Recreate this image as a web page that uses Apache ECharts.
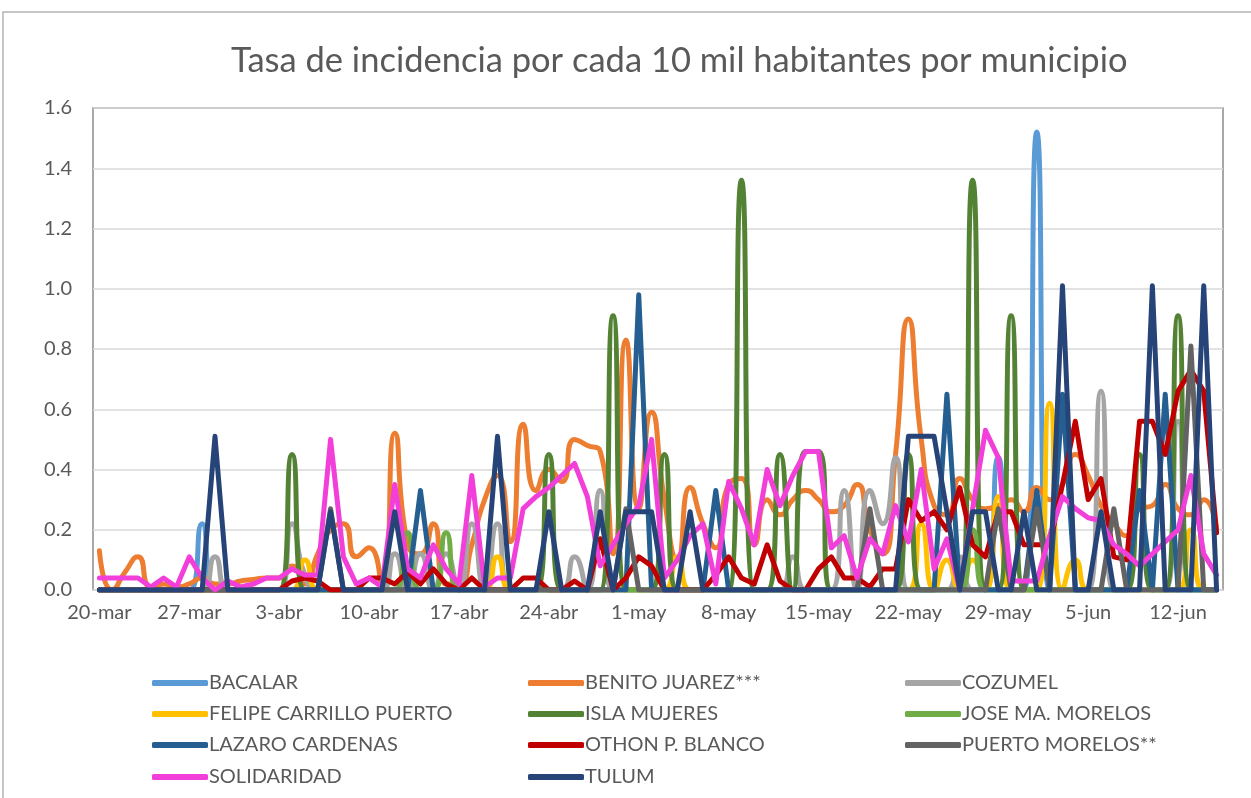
<!DOCTYPE html>
<html>
<head>
<meta charset="utf-8">
<script src="https://cdn.jsdelivr.net/npm/echarts@6/dist/echarts.min.js"></script>
<style>
  html, body { margin: 0; padding: 0; background: #fff; }
  #chart { width: 1251px; height: 798px; }
</style>
</head>
<body>
<div id="chart"></div>
<script>
// days 20-mar .. 15-jun (88 days)
const months = ['mar', 'abr', 'may', 'jun']
const monthDays = [31, 30, 31, 30]
const dates = []
let m = 0, d = 20
for (let k = 0; k < 88; k++) {
  dates.push(d + '-' + months[m])
  d++
  if (d > monthDays[m]) { d = 1; m++ }
}

const names = ['BACALAR', 'BENITO JUAREZ***', 'COZUMEL', 'FELIPE CARRILLO PUERTO', 'ISLA MUJERES',
  'JOSE MA. MORELOS', 'LAZARO CARDENAS', 'OTHON P. BLANCO', 'PUERTO MORELOS**', 'SOLIDARIDAD', 'TULUM']
const colors = ['#5B9BD5', '#ED7D31', '#A5A5A5', '#FFC000', '#548235', '#70AD47', '#255E91', '#C00000', '#636363', '#F33FDA', '#264478']
const smoothed = [true, true, true, true, true, true, false, false, false, false, false]

// sparse series: {index: value}, rest are 0
const bacalarPeaks = { 8: 0.22, 70: 0.44, 73: 1.52 }
const cozumelPeaks = { 9: 0.11, 15: 0.22, 16: 0.05, 23: 0.12, 25: 0.12, 27: 0.12, 29: 0.22, 31: 0.22, 37: 0.11, 39: 0.33,
  54: 0.11, 58: 0.33, 60: 0.33, 61: 0.22, 62: 0.44, 67: 0.11, 78: 0.66, 84: 0.56 }
const felipePeaks = { 16: 0.1, 31: 0.11, 45: 0.11, 64: 0.22, 66: 0.1, 68: 0.1, 70: 0.31, 74: 0.62, 76: 0.1, 85: 0.2 }
const islaPeaks = { 15: 0.45, 35: 0.45, 40: 0.91, 44: 0.45, 50: 1.36, 53: 0.45, 55: 0.46, 56: 0.46, 63: 0.45,
  68: 1.36, 71: 0.91, 81: 0.45, 84: 0.91 }
const josePeaks = { 24: 0.19, 27: 0.19, 68: 0.2 }
const lazaroPeaks = { 25: 0.33, 42: 0.98, 48: 0.33, 66: 0.65, 73: 0.33, 75: 0.65, 81: 0.33, 83: 0.65 }
const puertoPeaks = { 18: 0.27, 41: 0.27, 60: 0.27, 70: 0.27, 73: 0.27, 79: 0.27, 85: 0.81 }
const tulumPeaks = { 9: 0.51, 18: 0.26, 23: 0.26, 31: 0.51, 35: 0.26, 39: 0.26, 41: 0.26, 42: 0.26, 43: 0.26, 46: 0.26,
  63: 0.51, 64: 0.51, 65: 0.51, 66: 0.26, 68: 0.26, 69: 0.26, 72: 0.26, 75: 1.01, 78: 0.26, 82: 1.01, 86: 1.01 }

const benito = [0.13, 0, 0.06, 0.11, 0.01, 0.02, 0.01, 0.02, 0.04, 0.02, 0.02, 0.03, 0.035, 0.04, 0.04,
  0.08, 0.02, 0.12, 0.2, 0.22, 0.11, 0.14, 0.02, 0.52, 0.15, 0.12, 0.22, 0.02, 0.02, 0.15,
  0.3, 0.38, 0.16, 0.55, 0.33, 0.4, 0.36, 0.5, 0.48, 0.46, 0.12, 0.83, 0.27, 0.59, 0.3,
  0.1, 0.34, 0.22, 0.14, 0.35, 0.37, 0.15, 0.3, 0.25, 0.3, 0.33, 0.3, 0.26, 0.28, 0.35,
  0.2, 0.12, 0.45, 0.9, 0.5, 0.28, 0.25, 0.37, 0.3, 0.27, 0.28, 0.3, 0.26, 0.34,
  0.3, 0.35, 0.45, 0.38, 0.28, 0.22, 0.18, 0.27, 0.28, 0.35, 0.27, 0.25, 0.3, 0.2]

const othon = [0, 0, 0, 0, 0, 0, 0, 0, 0, 0, 0, 0, 0, 0, 0,
  0.03, 0.04, 0.03, 0, 0, 0, 0.04, 0.04, 0.02, 0.06, 0.02, 0.07, 0.02, 0, 0.04,
  0, 0, 0, 0.04, 0.04, 0, 0, 0.03, 0, 0.17, 0, 0.04, 0.11, 0.08, 0,
  0, 0, 0, 0.05, 0.11, 0.04, 0.02, 0.15, 0.03, 0, 0, 0.07, 0.11, 0.04, 0.04,
  0.01, 0.07, 0.07, 0.3, 0.23, 0.26, 0.2, 0.34, 0.15, 0.11, 0.26, 0.26, 0.15, 0.15,
  0.15, 0.35, 0.56, 0.3, 0.37, 0.11, 0.1, 0.56, 0.56, 0.45, 0.66, 0.73, 0.66, 0.19]

const solidaridad = [0.04, 0.04, 0.04, 0.04, 0.01, 0.04, 0.01, 0.11, 0.04, 0, 0.03, 0.01, 0.02, 0.04, 0.04,
  0.07, 0.05, 0.05, 0.5, 0.11, 0.02, 0.04, 0.01, 0.35, 0.07, 0.04, 0.15, 0.07, 0.02, 0.38,
  0.01, 0.04, 0.04, 0.27, 0.31, 0.34, 0.38, 0.42, 0.31, 0.08, 0.15, 0.22, 0.28, 0.5, 0.04,
  0.1, 0.18, 0.22, 0.02, 0.36, 0.27, 0.15, 0.4, 0.28, 0.38, 0.46, 0.46, 0.14, 0.18, 0.04,
  0.17, 0.12, 0.28, 0.16, 0.4, 0.07, 0.17, 0, 0.27, 0.53, 0.44, 0.03, 0.03, 0.03,
  0.18, 0.31, 0.27, 0.24, 0.23, 0.15, 0.12, 0.08, 0.12, 0.16, 0.2, 0.38, 0.12, 0.05]

function fromPeaks(p) {
  return dates.map((_, i) => (p[i] !== undefined ? p[i] : 0))
}

const seriesValues = [
  fromPeaks(bacalarPeaks), benito, fromPeaks(cozumelPeaks), fromPeaks(felipePeaks), fromPeaks(islaPeaks),
  fromPeaks(josePeaks), fromPeaks(lazaroPeaks), othon, fromPeaks(puertoPeaks), solidaridad, fromPeaks(tulumPeaks)
]

const font = 'Lato, "Open Sans", sans-serif'
const textColor = '#595959'

// legend: 3 columns, 4 rows
const legendCols = [147, 523, 900]
const legendRows = [668, 699, 730, 762]
const legends = names.map((n, i) => ({
  data: [n],
  left: legendCols[i % 3],
  top: legendRows[Math.floor(i / 3)],
  icon: 'roundRect',
  itemWidth: 56,
  itemHeight: 6,
  textStyle: { color: textColor, fontSize: 20, fontFamily: font, padding: [0, 0, 0, -4] },
  selectedMode: false
}))

const chart = echarts.init(document.getElementById('chart'))
chart.setOption({
  backgroundColor: '#fff',
  animation: false,
  title: {
    text: 'Tasa de incidencia por cada 10 mil habitantes por municipio',
    left: 226,
    top: 38,
    textStyle: { color: textColor, fontSize: 34.5, fontWeight: 'normal', fontFamily: font }
  },
  graphic: [{
    type: 'rect',
    shape: { x: 3, y: 12, width: 1260, height: 800 },
    style: { fill: 'none', stroke: '#b4b4b4', lineWidth: 1.5 },
    silent: true
  }],
  legend: legends,
  grid: {
    left: 93, right: 28, top: 108, bottom: 208,
    show: true, borderColor: '#8c8c8c', borderWidth: 1.5
  },
  xAxis: {
    type: 'category',
    data: dates,
    boundaryGap: true,
    axisLine: { lineStyle: { color: '#d9d9d9', width: 1.5 } },
    axisTick: { interval: 6, length: 5, lineStyle: { color: '#d9d9d9' } },
    axisLabel: { interval: 6, color: textColor, fontSize: 20, fontFamily: font, margin: 13 }
  },
  yAxis: {
    type: 'value',
    min: 0, max: 1.6, interval: 0.2,
    axisLine: { show: false },
    axisTick: { show: false },
    splitLine: { lineStyle: { color: '#d9d9d9', width: 1.5 } },
    axisLabel: { color: textColor, fontSize: 20, fontFamily: font, margin: 21, formatter: v => v.toFixed(1) }
  },
  series: names.map((n, i) => ({
    name: n,
    type: 'line',
    data: seriesValues[i],
    smooth: smoothed[i] ? 0.6 : false,
    showSymbol: false,
    symbol: 'none',
    color: colors[i],
    lineStyle: { width: 5, color: colors[i], cap: 'round', join: 'round' }
  }))
})
</script>
</body>
</html>
